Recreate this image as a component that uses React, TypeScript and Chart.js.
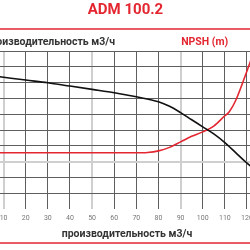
import React, { useEffect, useRef } from "react";
import { Chart, registerables } from "chart.js";

Chart.register(...registerables);

const chartTitle = "ADM 100.2";
const flowLabel = "производительность м3/ч";
const npshLabel = "NPSH (m)";

const xTicks = [0, 10, 20, 30, 40, 50, 60, 70, 80, 90, 100, 110, 120, 130];

const headFlow = [0, 10, 20, 30, 40, 50, 60, 70, 80, 85, 90, 95, 100, 105, 110, 115, 120, 125];
const headValues = [8.52, 8.34, 8.16, 7.99, 7.78, 7.57, 7.36, 7.1, 6.79, 6.5, 6.1, 5.65, 5.2, 4.75, 4.2, 3.55, 2.9, 2.35];

const npshFlow = [0, 10, 20, 30, 40, 50, 60, 70, 75, 80, 85, 90, 95, 100, 105, 110, 112, 115, 119, 123];
const npshValues = [3.56, 3.56, 3.56, 3.56, 3.56, 3.56, 3.56, 3.56, 3.58, 3.68, 3.9, 4.25, 4.6, 4.88, 5.25, 5.9, 6.15, 6.9, 8.35, 9.9];

const RED = "#e32630";
const DARK = "#333333";
const GRID = "#5e5e5e";
const LIGHT = "#cfcfcf";
const OFFSET = 30; // canvas shifted left by this many px

const textPlugin = {
  id: "textPlugin",
  afterDraw(chart: any) {
    const c = chart.ctx;
    c.save();
    c.textBaseline = "middle";
    // title
    c.fillStyle = RED;
    c.font = "bold 15px Roboto";
    c.textAlign = "center";
    c.fillText(chartTitle, 125.5 + OFFSET, 10);
    // top red rule
    c.strokeStyle = RED;
    c.lineWidth = 1.5;
    c.beginPath();
    c.moveTo(0, 29);
    c.lineTo(chart.width, 29);
    c.stroke();
    // subtitle left
    c.fillStyle = DARK;
    c.font = "bold 10.5px Roboto";
    c.textAlign = "right";
    c.fillText(flowLabel, 115 + OFFSET, 42);
    // NPSH label
    c.fillStyle = RED;
    c.font = "bold 10.5px Roboto";
    c.textAlign = "center";
    c.fillText(npshLabel, 204.7 + OFFSET, 42);
    // bottom axis title
    c.fillStyle = DARK;
    c.font = "bold 10.5px Roboto";
    c.fillText(flowLabel, 127 + OFFSET, 234);
    // bottom red rule
    c.strokeStyle = RED;
    c.lineWidth = 1.5;
    c.beginPath();
    c.moveTo(0, 243);
    c.lineTo(chart.width, 243);
    c.stroke();
    c.restore();
  },
};

export default function App() {
  const ref = useRef<HTMLCanvasElement>(null);
  useEffect(() => {
    if (!ref.current) return;
    const chart = new Chart(ref.current, {
      type: "line",
      data: {
        datasets: [
          {
            label: "H",
            data: headFlow.map((x, i) => ({ x, y: headValues[i] })),
            borderColor: "#111111",
            borderWidth: 1.6,
            pointRadius: 0,
            cubicInterpolationMode: "monotone",
          },
          {
            label: "NPSH",
            data: npshFlow.map((x, i) => ({ x, y: npshValues[i] })),
            borderColor: RED,
            borderWidth: 1.6,
            pointRadius: 0,
            cubicInterpolationMode: "monotone",
          },
        ],
      },
      options: {
        animation: false,
        responsive: false,
        maintainAspectRatio: false,
        layout: { padding: { left: 11.5, right: 6, top: 51, bottom: 0 } },
        plugins: { legend: { display: false }, tooltip: { enabled: false }, title: { display: false } },
        scales: {
          x: {
            type: "linear",
            min: 0,
            max: 130,
            afterFit: (s: any) => {
              s.height = 41;
            },
            afterBuildTicks: (s: any) => {
              s.ticks = xTicks.map((v) => ({ value: v }));
            },
            border: { display: false },
            grid: {
              drawTicks: false,
              color: (ctx: any) => ((ctx.tick.value - 10) % 40 === 0 ? LIGHT : GRID),
              lineWidth: (ctx: any) => ((ctx.tick.value - 10) % 40 === 0 ? 2 : 1),
            },
            ticks: {
              autoSkip: false,
              maxRotation: 0,
              padding: 5,
              color: "#777777",
              font: { family: "Roboto", size: 7 },
            },
          },
          y: {
            min: 0,
            max: 10,
            border: { display: false },
            afterFit: (s: any) => {
              s.width = 0;
            },
            grid: {
              drawTicks: false,
              color: (ctx: any) => (ctx.tick.value === 0 ? "rgba(0,0,0,0)" : ctx.tick.value === 3 ? LIGHT : GRID),
              lineWidth: (ctx: any) => (ctx.tick.value === 3 ? 2 : 1),
            },
            ticks: { display: false, stepSize: 1 },
          },
        },
      },
      plugins: [textPlugin],
    });
    return () => chart.destroy();
  }, []);
  return (
    <div style={{ position: "fixed", left: 0, top: 0, width: 250, height: 250, overflow: "hidden", background: "#fff" }}>
      <canvas ref={ref} width={310} height={250} style={{ position: "absolute", left: -OFFSET, top: 0, width: 310, height: 250 }} />
    </div>
  );
}
